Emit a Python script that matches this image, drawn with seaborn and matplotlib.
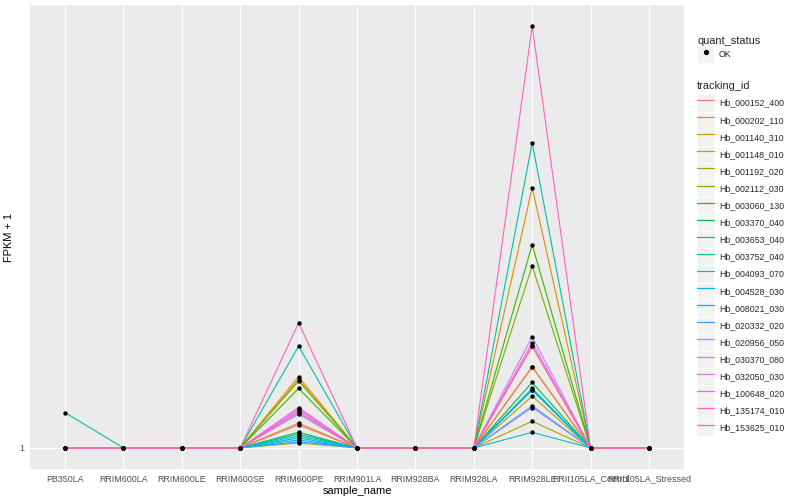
import numpy as np
import pandas as pd
import matplotlib
matplotlib.use("Agg")
import matplotlib.pyplot as plt
import seaborn as sns
from matplotlib.lines import Line2D
from matplotlib.patches import Rectangle
from matplotlib.legend_handler import HandlerLine2D

# ---------------- data ----------------
samples = ["PB350LA", "RRIM600LA", "RRIM600LE", "RRIM600SE", "RRIM600PE",
           "RRIM901LA", "RRIM928BA", "RRIM928LA", "RRIM928LE",
           "RRII105LA_Control", "RRII105LA_Stressed"]

tracking_ids = ["Hb_000152_400", "Hb_000202_110", "Hb_001140_310", "Hb_001148_010",
                "Hb_001192_020", "Hb_002112_030", "Hb_003060_130", "Hb_003370_040",
                "Hb_003653_040", "Hb_003752_040", "Hb_004093_070", "Hb_004528_030",
                "Hb_008021_030", "Hb_020332_020", "Hb_020956_050", "Hb_030370_080",
                "Hb_032050_030", "Hb_100648_020", "Hb_135174_010", "Hb_153625_010"]

hue_colors = ["#F8766D", "#EA8331", "#D89000", "#C09B00", "#A3A500", "#7CAE00",
              "#39B600", "#00BB4E", "#00BF7D", "#00C1A3", "#00BFC4", "#00BAE0",
              "#00B0F6", "#35A2FF", "#9590FF", "#C77CFF", "#E76BF3", "#FA62DB",
              "#FF62BC", "#FF6C91"]

# FPKM + 1 values, one entry per tracking_id (same order as tracking_ids)
pb350la = [1.0, 1.0, 1.0, 1.0, 1.0, 1.0, 1.0, 1.0, 1.0, 1.19,
           1.0, 1.0, 1.0, 1.0, 1.0, 1.0, 1.0, 1.0, 1.0, 1.0]
rrim600pe = [1.12, 1.13, 1.42, 1.40, 1.025, 1.39, 1.34, 1.08, 1.07, 1.65,
             1.06, 1.05, 1.04, 1.03, 1.18, 1.21, 1.20, 1.22, 1.85, 1.19]
rrim928le = [1.49, 1.49, 3.60, 1.29, 1.14, 2.45, 2.72, 1.38, 1.34, 4.49,
             1.08, 1.33, 1.33, 1.23, 1.22, 1.73, 1.68, 1.65, 7.98, 1.65]
flat_value = 1.0  # every other sample sits at FPKM + 1 = 1

sample_values = {s: [flat_value] * len(tracking_ids) for s in samples}
sample_values["PB350LA"] = pb350la
sample_values["RRIM600PE"] = rrim600pe
sample_values["RRIM928LE"] = rrim928le

rows = []
for ti, tid in enumerate(tracking_ids):
    for s in samples:
        rows.append({"tracking_id": tid, "sample_name": s,
                     "fpkm1": sample_values[s][ti], "quant_status": "OK"})
df = pd.DataFrame(rows)

# ---------------- style ----------------
sns.set_theme(style="darkgrid")
plt.rcParams["font.family"] = ["Liberation Sans", "DejaVu Sans"]

DPI = 100
fig = plt.figure(figsize=(8, 5), dpi=DPI)
ax = fig.add_axes([30 / 800, 1 - 469 / 500, (684 - 30) / 800, (469 - 5) / 500])
ax.set_facecolor("#EBEBEB")

palette = dict(zip(tracking_ids, hue_colors))
sns.lineplot(data=df, x="sample_name", y="fpkm1", hue="tracking_id",
             palette=palette, estimator=None, sort=False, lw=0.8,
             legend=False, ax=ax, zorder=3)
sns.scatterplot(data=df, x="sample_name", y="fpkm1", color="black",
                marker="o", s=10, linewidth=0, legend=False, ax=ax, zorder=4)

ax.set_yscale("log")
lo = np.log10(df["fpkm1"].min())
hi = np.log10(df["fpkm1"].max())
pad = (hi - lo) * 0.05
ax.set_ylim(10 ** (lo - pad), 10 ** (hi + pad))
ax.set_yticks([1])
ax.set_yticklabels(["1"])
ax.yaxis.set_minor_locator(matplotlib.ticker.NullLocator())
ax.set_xlim(-0.6, len(samples) - 1 + 0.6)

ax.grid(True, which="major", color="white", lw=0.8)
for sp in ax.spines.values():
    sp.set_visible(False)

ax.tick_params(axis="both", which="major", length=2.0, width=0.75,
               color="#333333", labelcolor="#4D4D4D", labelsize=6.4, pad=2)
ax.set_xlabel("sample_name", fontsize=7.9, color="black", labelpad=2)
ax.set_ylabel("FPKM + 1", fontsize=7.9, color="black", labelpad=4)

# ---------------- legends ----------------
class KeyHandler(HandlerLine2D):
    def create_artists(self, legend, orig_handle, xdescent, ydescent, width,
                       height, fontsize, trans):
        bg = Rectangle((-xdescent, -ydescent), width, height, facecolor="#F2F2F2",
                       edgecolor="white", lw=0.5, transform=trans)
        arts = super().create_artists(legend, orig_handle, xdescent, ydescent,
                                      width, height, fontsize, trans)
        return [bg] + list(arts)

leg_fs = 6.3
key_px = 17.1
fs_px = leg_fs * DPI / 72
hl = key_px / fs_px
hh = (hl - 0.245) / 0.65

common = dict(loc="upper left", frameon=False, fontsize=leg_fs,
              title_fontsize=7.9, alignment="left", borderpad=0,
              borderaxespad=0, handlelength=hl, handleheight=hh,
              labelspacing=0.0, handletextpad=0.55, numpoints=1)

ok_handle = Line2D([], [], ls="none", marker="o", color="black", ms=2.8)
leg1 = fig.legend([ok_handle], ["OK"], title="quant_status",
                  bbox_to_anchor=(697 / 800, 1 - 36 / 500),
                  handler_map={Line2D: KeyHandler()}, **common)

line_handles = [Line2D([], [], color=c, lw=0.9) for c in hue_colors]
leg2 = fig.legend(line_handles, tracking_ids, title="tracking_id",
                  bbox_to_anchor=(697 / 800, 1 - 81 / 500),
                  handler_map={Line2D: KeyHandler()}, **common)
leg2._legend_box.sep = 2.5

fig.savefig("out.png", dpi=DPI, facecolor="white")
